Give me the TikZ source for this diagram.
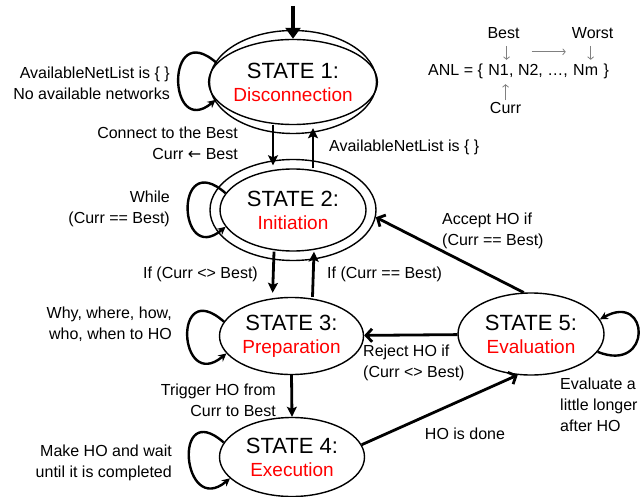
\documentclass[tikz,border=0pt]{standalone}
\usepackage{fontspec}
\setmainfont{Liberation Sans}
\newfontfamily\arrowfont{DejaVu Sans}
\usetikzlibrary{shapes.geometric,arrows.meta,positioning}
\newcommand{\phase}[1]{{\fontsize{19}{23}\selectfont\color{red}#1}}

\begin{document}
\begin{tikzpicture}[x=1pt,y=-1pt,
    state/.style={ellipse, draw, line width=1.4pt, align=center, inner sep=0pt, font=\fontsize{22}{23}\selectfont},
    ring/.style={ellipse, draw, line width=1.4pt, inner sep=0pt},
    entry/.style={line width=4pt, -{Triangle[length=11pt,width=15pt]}},
    trans/.style={line width=2.8pt, -{Stealth[length=10pt,width=10pt,inset=2pt]}},
    move/.style={line width=2.8pt, -{Straight Barb[length=6pt,width=13pt]}},
    selfloop/.style={line width=2.4pt, -{Stealth[length=8pt,width=8pt]}},
    lbl/.style={font=\fontsize{16}{21}\selectfont, inner sep=0pt},
    ptr/.style={draw=gray, line width=0.8pt, -{Straight Barb[length=2.5pt,width=6pt]}}]

  \useasboundingbox (0,0) rectangle (642,497);

  % states
  \node[state, minimum width=147pt, minimum height=85pt] (s1) at (293,82) {STATE 1:\\\phase{Disconnection}};
  \node[ring, minimum width=167pt, minimum height=103pt] (s1o) at (s1) {};
  \node[state, minimum width=146pt, minimum height=82pt] (s2) at (293,210) {STATE 2:\\\phase{Initiation}};
  \node[ring, minimum width=166pt, minimum height=101pt] (s2o) at (s2) {};
  \node[state, minimum width=144pt, minimum height=77pt] (s3) at (291.5,336) {STATE 3:\\\phase{Preparation}};
  \node[state, minimum width=145pt, minimum height=79pt] (s4) at (292,457) {STATE 4:\\\phase{Execution}};
  \node[state, minimum width=146pt, minimum height=82pt] (s5) at (531,334) {STATE 5:\\\phase{Evaluation}};

  % transitions
  \coordinate[above=24pt of s1o] (init);
  \draw[entry] (init) -- (s1.north);
  \draw[trans, shorten >=3pt] ([xshift=-20pt]s1.south) -- ([xshift=-20pt]s2.north);
  \draw[trans, shorten >=3pt] ([xshift=20pt]s2.north) -- ([xshift=20pt]s1.south);
  \draw[trans, shorten >=4pt] ([xshift=-19pt]s2.south) -- ([xshift=-19pt]s3.north);
  \draw[trans] ([xshift=21pt]s3.north) -- ([xshift=21pt]s2.south);
  \draw[trans] (s3.south) -- (s4.north);
  \draw[move] (s4.10) -- (s5.252);
  \draw[move] (s5) -- (s3);
  \draw[move] (s5.100) -- (s2o.-5);

  % self loops
  \draw[selfloop] (s1.166) .. controls +(-52,-46) and +(-48,40) .. (s1.193);
  \draw[selfloop] (s2.166) .. controls +(-52,-46) and +(-48,40) .. (s2.194);
  \draw[selfloop] (s3.168) .. controls +(-52,-46) and +(-48,40) .. (s3.195);
  \draw[selfloop] (s4.168) .. controls +(-52,-46) and +(-48,40) .. (s4.199);
  \draw[selfloop] (s5.-15) .. controls +(55,22) and +(50,-28) .. (s5.12);

  % labels
  \node[lbl, anchor=east, align=right] (l1) at (170,83) {AvailableNetList is \{ \}\\No available networks};
  \node[lbl, anchor=east, align=right] (l2) at (170,209) {While\\(Curr == Best)};
  \node[lbl, anchor=east, align=right] (l3) at (172,324) {Why, where, how,\\who, when to HO};
  \node[lbl, anchor=east, align=right] (l4) at (172,463) {Make HO and wait\\until it is completed};
  \node[lbl, anchor=east, align=right] (lconn) at (238,143) {Connect to the Best\\Curr {\arrowfont ←} Best};
  \node[lbl, anchor=west] (lempty) at (329,147) {AvailableNetList is \{ \}};
  \node[lbl, anchor=east] (lne) at (258,274) {If (Curr <> Best)};
  \node[lbl, anchor=west] (leq) at (327,274) {If (Curr == Best)};
  \node[lbl, anchor=east, align=right] (ltrig) at (276,400) {Trigger HO from\\Curr to Best};
  \node[lbl, anchor=west, align=left] (lrej) at (363,363) {Reject HO if\\(Curr <> Best)};
  \node[lbl, anchor=west, align=left] (lacc) at (442,231) {Accept HO if\\(Curr == Best)};
  \node[lbl] (ldone) at (465,434) {HO is done};
  \node[lbl, anchor=west, align=left] (leval) at (560,405) {Evaluate a\\little longer\\after HO};

  % available network list
  \node[lbl, anchor=base west] (anl) at (428,76) {ANL = \{\kern5pt};
  \node[lbl, anchor=base west] (n1) at (anl.base east) {N1};
  \node[lbl, anchor=base west] (nmid) at (n1.base east) {, N2, …,\kern5pt};
  \node[lbl, anchor=base west] (nm) at (nmid.base east) {Nm};
  \node[lbl, anchor=base west] (anr) at (nm.base east) {\kern5pt\}};
  \node[lbl, above=26pt of n1, xshift=5pt] (best) {Best};
  \node[lbl, above=26pt of nm, xshift=7pt] (worst) {Worst};
  \node[lbl, below=26pt of n1, xshift=7pt] (curr) {Curr};
  \draw[ptr, shorten <=7pt, shorten >=5pt] ([xshift=3pt]best.south) -- ([xshift=3pt]best.south |- n1.north);
  \draw[ptr, shorten <=7pt, shorten >=5pt] ([xshift=-2pt]worst.south) -- ([xshift=-2pt]worst.south |- nm.north);
  \draw[ptr, shorten <=2pt, shorten >=8pt] (curr.north) -- (curr.north |- n1.south);
  \coordinate[below right=13pt and 12pt of best.south east] (gfrom);
  \coordinate[below left=13pt and 6pt of worst.south west] (gto);
  \draw[ptr] (gfrom) -- (gto);
\end{tikzpicture}
\end{document}
